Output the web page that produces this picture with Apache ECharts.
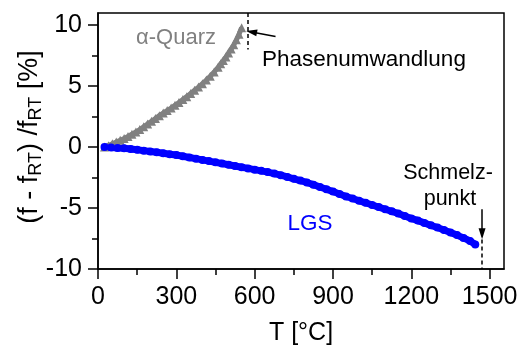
<!DOCTYPE html>
<html><head><meta charset="utf-8">
<script src="https://cdn.jsdelivr.net/npm/echarts@6/dist/echarts.min.js"></script>
<style>html,body{margin:0;padding:0;background:#fff}#c{width:523px;height:351px}</style>
</head><body><div id="c"></div>
<script>
// ---- data ----
const xTicks = [0, 300, 600, 900, 1200, 1500];
const xMinorTicks = [150, 450, 750, 1050, 1350];
const yTicks = [-10, -5, 0, 5, 10];
const yMinorTicks = [-7.5, -2.5, 2.5, 7.5];

const lgsT = [25,50,75,100,125,150,175,200,225,250,275,300,325,350,375,400,425,450,475,500,525,550,575,600,625,650,675,700,725,750,775,800,825,850,875,900,925,950,975,1000,1025,1050,1075,1100,1125,1150,1175,1200,1225,1250,1275,1300,1325,1350,1375,1400,1425,1445];
const lgsV = [0,-0.03,-0.07,-0.1,-0.15,-0.22,-0.29,-0.36,-0.43,-0.5,-0.58,-0.65,-0.75,-0.85,-0.95,-1.05,-1.15,-1.25,-1.35,-1.45,-1.55,-1.65,-1.75,-1.85,-1.95,-2.05,-2.17,-2.3,-2.45,-2.6,-2.75,-2.9,-3.08,-3.27,-3.46,-3.65,-3.85,-4.05,-4.22,-4.4,-4.57,-4.75,-4.92,-5.1,-5.27,-5.45,-5.65,-5.85,-6.03,-6.22,-6.42,-6.6,-6.8,-7.0,-7.22,-7.45,-7.7,-7.98];

const quarzT = [25,40,55,70,85,100,115,130,145,160,175,190,205,220,235,250,265,280,295,310,325,340,355,370,385,400,415,430,445,460,470,480,490,500,510,520,530,540,550];
const quarzV = [0,0.12,0.27,0.42,0.56,0.7,0.87,1.05,1.24,1.44,1.66,1.9,2.12,2.35,2.58,2.8,3.0,3.2,3.43,3.66,3.9,4.14,4.4,4.66,4.92,5.2,5.5,5.82,6.16,6.55,6.83,7.1,7.4,7.72,8.05,8.4,8.8,9.25,9.8];

const phaseT = 573;   // Phasenumwandlung
const meltT = 1471;   // Schmelzpunkt

// ---- chart ----
const FF = '"Liberation Sans", Arial, sans-serif';
const BLK = '#000';
const chart = echarts.init(document.getElementById('c'), null, {renderer: 'canvas'});

const zip = (a, b) => a.map((v, i) => [v, b[i]]);
const plain = v => String(v);

chart.setOption({
  animation: false,
  backgroundColor: '#fff',
  grid: {left: 98, right: 19, top: 13, bottom: 79, show: true, borderColor: BLK, borderWidth: 1.5, backgroundColor: 'transparent'},
  xAxis: [{
    type: 'value', min: 0, max: 1555, position: 'bottom',
    axisLine: {show: true, onZero: false, lineStyle: {color: BLK, width: 1.5}},
    axisTick: {show: true, customValues: xTicks, length: 10, lineStyle: {color: BLK, width: 1.5}},
    axisLabel: {customValues: xTicks, formatter: plain, fontSize: 25, margin: 16, color: BLK, fontFamily: FF},
    splitLine: {show: false},
    name: 'T [°C]', nameLocation: 'middle', nameGap: 52,
    nameTextStyle: {fontSize: 25, color: BLK, fontFamily: FF}
  }, {
    type: 'value', min: 0, max: 1555, position: 'bottom',
    axisLine: {show: false, onZero: false},
    axisTick: {show: true, customValues: xMinorTicks, length: 6, lineStyle: {color: BLK, width: 1.5}},
    axisLabel: {show: false},
    splitLine: {show: false}
  }],
  yAxis: [{
    type: 'value', min: -10, max: 11, position: 'left',
    axisLine: {show: true, onZero: false, lineStyle: {color: BLK, width: 1.5}},
    axisTick: {show: true, customValues: yTicks, length: 10, lineStyle: {color: BLK, width: 1.5}},
    axisLabel: {customValues: yTicks, formatter: plain, fontSize: 25, margin: 16, color: BLK, fontFamily: FF},
    splitLine: {show: false}
  }, {
    type: 'value', min: -10, max: 11, position: 'left',
    axisLine: {show: false, onZero: false},
    axisTick: {show: true, customValues: yMinorTicks, length: 6, lineStyle: {color: BLK, width: 1.5}},
    axisLabel: {show: false},
    splitLine: {show: false}
  }],
  series: [{
    name: 'α-Quarz', type: 'line', xAxisIndex: 0, yAxisIndex: 0,
    data: zip(quarzT, quarzV), symbol: 'triangle', symbolSize: 9, showSymbol: true,
    lineStyle: {color: '#808080', width: 5},
    itemStyle: {color: '#808080'},
    markLine: {
      silent: true, symbol: ['none', 'none'], label: {show: false},
      lineStyle: {color: BLK, width: 1.5, type: [4, 3]},
      data: [
        [{coord: [phaseT, 11]}, {coord: [phaseT, 8.0]}],
        [{coord: [meltT, -7.0]}, {coord: [meltT, -10]}]
      ]
    }
  }, {
    name: 'LGS', type: 'line', xAxisIndex: 0, yAxisIndex: 0,
    data: zip(lgsT, lgsV), symbol: 'circle', symbolSize: 8, showSymbol: true,
    lineStyle: {color: '#0000ff', width: 7},
    itemStyle: {color: '#0000ff'},
    markLine: {
      silent: true, symbol: ['none', 'triangle'], symbolSize: [7, 11], label: {show: false},
      lineStyle: {color: BLK, width: 1.5, type: 'solid'},
      itemStyle: {color: BLK},
      data: [
        [{coord: [680, 9.08]}, {coord: [588, 9.45]}],
        [{coord: [meltT, -5.1]}, {coord: [meltT, -7.1]}]
      ]
    }
  }],
  graphic: [
    {type: 'text', x: 176, y: 38, style: {text: 'α-Quarz', fill: '#808080', font: '22px ' + FF, align: 'center', verticalAlign: 'middle', textAlign: 'center', textVerticalAlign: 'middle'}},
    {type: 'text', x: 262, y: 60, style: {text: 'Phasenumwandlung', fill: BLK, font: '22.5px ' + FF, align: 'left', verticalAlign: 'middle', textAlign: 'left', textVerticalAlign: 'middle'}},
    {type: 'text', x: 448, y: 173, style: {text: 'Schmelz-', fill: BLK, font: '21.5px ' + FF, align: 'center', verticalAlign: 'middle', textAlign: 'center', textVerticalAlign: 'middle'}},
    {type: 'text', x: 450, y: 199, style: {text: 'punkt', fill: BLK, font: '21.5px ' + FF, align: 'center', verticalAlign: 'middle', textAlign: 'center', textVerticalAlign: 'middle'}},
    {type: 'text', x: 310, y: 224, style: {text: 'LGS', fill: '#0000ff', font: '22.5px ' + FF, align: 'center', verticalAlign: 'middle', textAlign: 'center', textVerticalAlign: 'middle'}},
    {type: 'text', x: 30, y: 137, rotation: Math.PI / 2, style: {
      text: '{a|(f - f}{s|RT}{a|) /f}{s|RT}{a| [%]}',
      align: 'center', verticalAlign: 'middle', textAlign: 'center', textVerticalAlign: 'middle',
      rich: {
        a: {fontSize: 27, fontFamily: FF, fill: BLK, color: BLK, lineHeight: 30},
        s: {fontSize: 18, fontFamily: FF, fill: BLK, color: BLK, lineHeight: 15, verticalAlign: 'bottom'}
      }
    }}
  ]
});
</script></body></html>
